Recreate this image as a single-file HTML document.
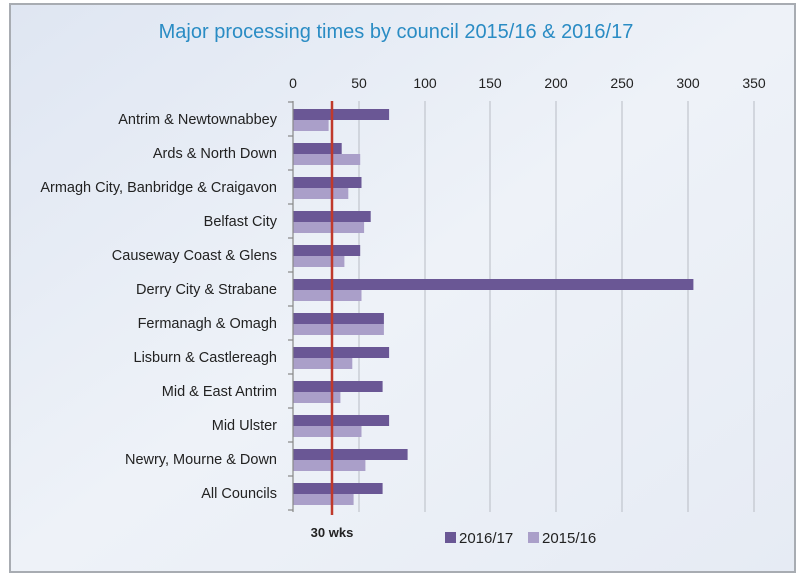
<!DOCTYPE html>
<html><head><style>
body{margin:0;background:#fff}
text{font-family:"Liberation Sans",sans-serif}
</style></head><body>
<svg width="800" height="577" viewBox="0 0 800 577" xmlns="http://www.w3.org/2000/svg">
<defs>
<linearGradient id="bg" x1="0" y1="0" x2="1" y2="1">
<stop offset="0" stop-color="#dfe6f2"/><stop offset="0.5" stop-color="#eef2f8"/><stop offset="1" stop-color="#e6ebf4"/>
</linearGradient>
</defs>
<rect x="0" y="0" width="800" height="577" fill="#fff"/>
<rect x="10" y="4" width="785" height="568" fill="url(#bg)" stroke="#a8acb2" stroke-width="2"/>
<text x="396" y="38" text-anchor="middle" font-size="20" fill="#2a8cc4">Major processing times by council 2015/16 &amp; 2016/17</text>
<g stroke="#b8bcc4" stroke-width="1">
<line x1="359" y1="101" x2="359" y2="512"/><line x1="425" y1="101" x2="425" y2="512"/>
<line x1="490" y1="101" x2="490" y2="512"/><line x1="556" y1="101" x2="556" y2="512"/>
<line x1="622" y1="101" x2="622" y2="512"/><line x1="688" y1="101" x2="688" y2="512"/>
<line x1="754" y1="101" x2="754" y2="512"/>
</g>
<g font-size="14" fill="#222" text-anchor="middle">
<text x="293" y="88">0</text><text x="359" y="88">50</text><text x="425" y="88">100</text><text x="490" y="88">150</text><text x="556" y="88">200</text><text x="622" y="88">250</text><text x="688" y="88">300</text><text x="754" y="88">350</text>
</g>
<g fill="#6a5795">
<rect x="293" y="109" width="96.1" height="11"/>
<rect x="293" y="143" width="48.7" height="11"/>
<rect x="293" y="177" width="68.5" height="11"/>
<rect x="293" y="211" width="77.7" height="11"/>
<rect x="293" y="245" width="67.2" height="11"/>
<rect x="293" y="279" width="400.4" height="11"/>
<rect x="293" y="313" width="90.9" height="11"/>
<rect x="293" y="347" width="96.1" height="11"/>
<rect x="293" y="381" width="89.6" height="11"/>
<rect x="293" y="415" width="96.1" height="11"/>
<rect x="293" y="449" width="114.6" height="11"/>
<rect x="293" y="483" width="89.6" height="11"/>
</g>
<g fill="#aa9fc9">
<rect x="293" y="120" width="35.6" height="11"/>
<rect x="293" y="154" width="67.2" height="11"/>
<rect x="293" y="188" width="55.3" height="11"/>
<rect x="293" y="222" width="71.1" height="11"/>
<rect x="293" y="256" width="51.4" height="11"/>
<rect x="293" y="290" width="68.5" height="11"/>
<rect x="293" y="324" width="90.9" height="11"/>
<rect x="293" y="358" width="59.3" height="11"/>
<rect x="293" y="392" width="47.4" height="11"/>
<rect x="293" y="426" width="68.5" height="11"/>
<rect x="293" y="460" width="72.4" height="11"/>
<rect x="293" y="494" width="60.6" height="11"/>
</g>
<g font-size="14.5" fill="#222" text-anchor="end">
<text x="277" y="124">Antrim &amp; Newtownabbey</text>
<text x="277" y="158">Ards &amp; North Down</text>
<text x="277" y="192">Armagh City, Banbridge &amp; Craigavon</text>
<text x="277" y="226">Belfast City</text>
<text x="277" y="260">Causeway Coast &amp; Glens</text>
<text x="277" y="294">Derry City &amp; Strabane</text>
<text x="277" y="328">Fermanagh &amp; Omagh</text>
<text x="277" y="362">Lisburn &amp; Castlereagh</text>
<text x="277" y="396">Mid &amp; East Antrim</text>
<text x="277" y="430">Mid Ulster</text>
<text x="277" y="464">Newry, Mourne &amp; Down</text>
<text x="277" y="498">All Councils</text>
</g>
<line x1="293" y1="101" x2="293" y2="512" stroke="#888" stroke-width="1.2"/>
<g stroke="#888" stroke-width="1.2">
<line x1="288" y1="102" x2="293" y2="102"/><line x1="288" y1="136" x2="293" y2="136"/><line x1="288" y1="170" x2="293" y2="170"/><line x1="288" y1="204" x2="293" y2="204"/><line x1="288" y1="238" x2="293" y2="238"/><line x1="288" y1="272" x2="293" y2="272"/><line x1="288" y1="306" x2="293" y2="306"/><line x1="288" y1="340" x2="293" y2="340"/><line x1="288" y1="374" x2="293" y2="374"/><line x1="288" y1="408" x2="293" y2="408"/><line x1="288" y1="442" x2="293" y2="442"/><line x1="288" y1="476" x2="293" y2="476"/><line x1="288" y1="510" x2="293" y2="510"/>
</g>
<line x1="332" y1="101" x2="332" y2="515" stroke="#c0392b" stroke-width="2.5"/>
<text x="332" y="537" text-anchor="middle" font-size="13" font-weight="bold" fill="#222">30 wks</text>
<rect x="445" y="532" width="11" height="11" fill="#6a5795"/>
<text x="459" y="543" font-size="15" fill="#222">2016/17</text>
<rect x="528" y="532" width="11" height="11" fill="#aa9fc9"/>
<text x="542" y="543" font-size="15" fill="#222">2015/16</text>
</svg>
</body></html>
